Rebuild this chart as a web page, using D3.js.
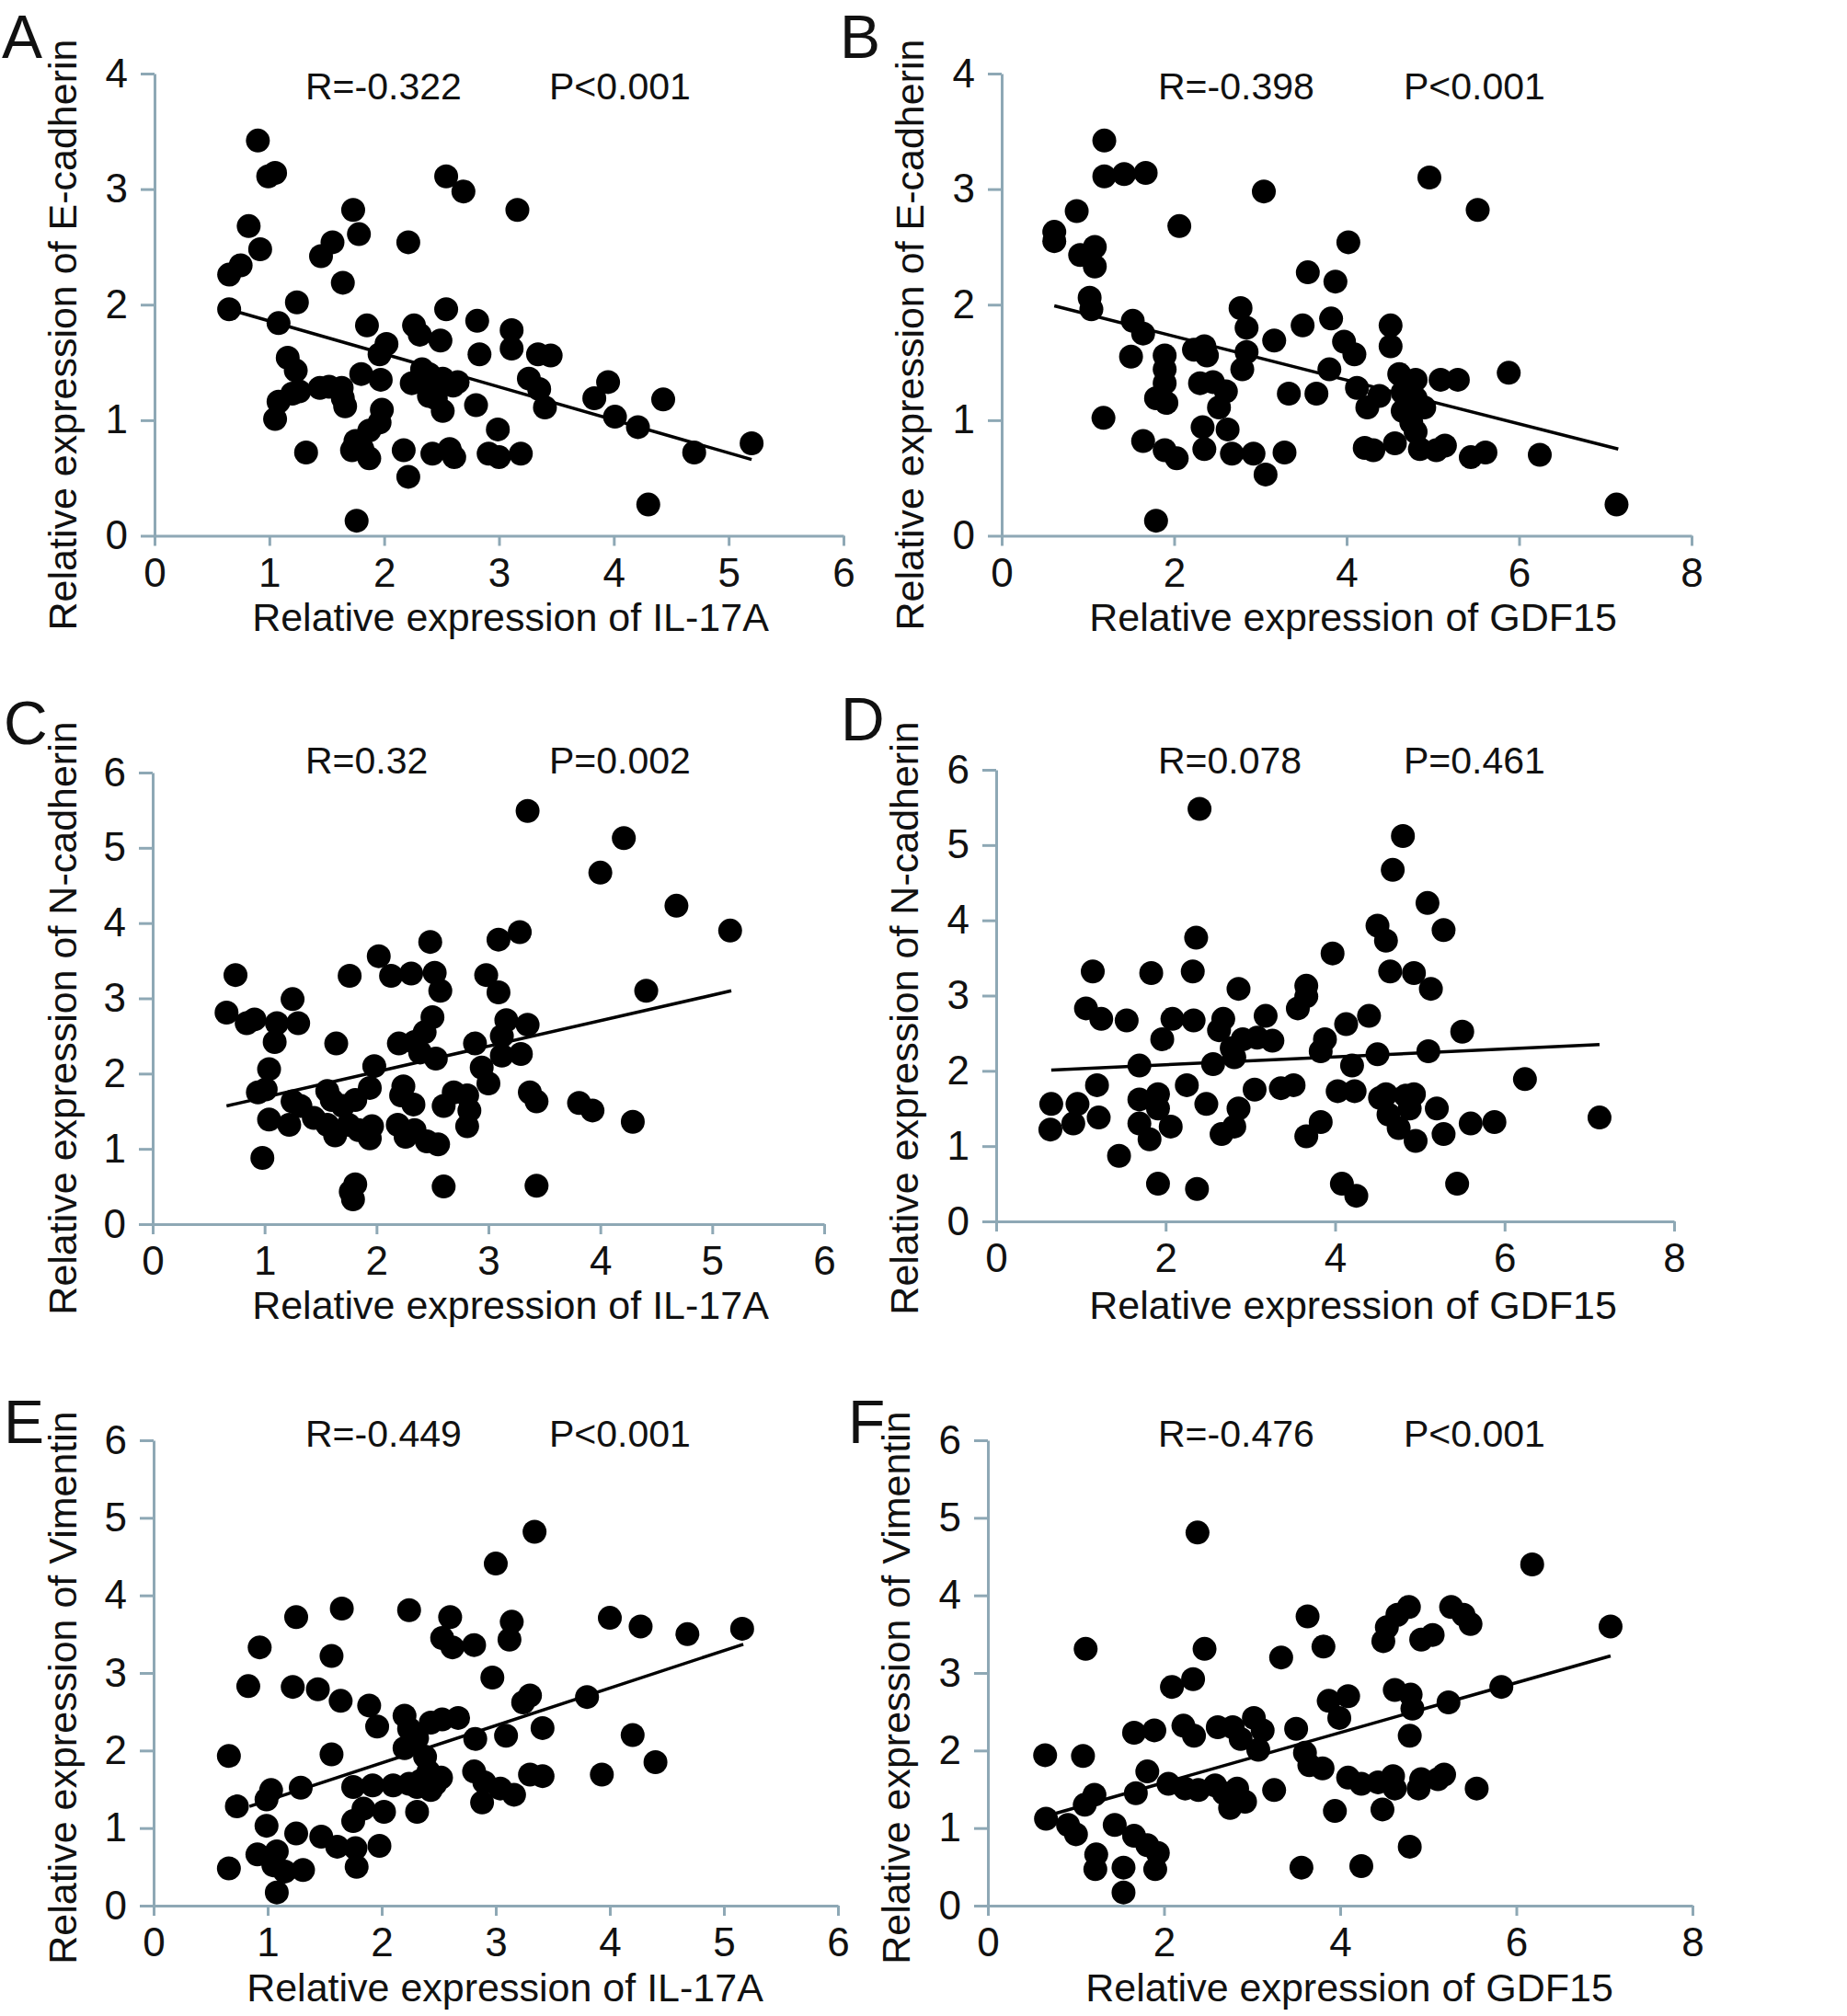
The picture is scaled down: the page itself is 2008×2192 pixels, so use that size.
<!DOCTYPE html>
<html>
<head>
<meta charset="utf-8">
<script src="https://cdn.jsdelivr.net/npm/d3@7"></script>
<style>
  body { margin: 0; background: #fff; }
  text { font-family: "Liberation Sans", Arial, sans-serif; fill: #111; }
</style>
</head>
<body>
<svg id="chart" width="2008" height="2192"></svg>
<script>
// ---- data ----
// A: IL-17A vs E-cadherin
const aIl17a = [0.90, 0.99, 1.05, 2.54, 2.69, 3.16, 1.73, 1.78, 0.82, 0.92, 2.21, 1.55, 1.45, 1.64, 0.75, 0.65, 0.65, 1.24, 1.08, 1.85,
  2.54, 2.81, 2.26, 2.31, 2.49, 3.11, 3.11, 2.83, 3.34, 3.45, 2.02, 1.96, 1.16, 1.23, 1.80, 1.97, 2.24, 2.33, 2.39, 2.42,
  2.51, 2.60, 2.45, 2.51, 2.39, 2.64, 3.26, 3.35, 3.40, 3.95, 3.83, 4.43, 4.01, 4.21, 4.70, 2.80, 1.44, 1.52, 1.63, 1.64,
  1.66, 1.26, 1.20, 1.08, 1.05, 1.32, 1.98, 1.96, 1.87, 1.75, 1.81, 1.87, 1.72, 2.17, 2.21, 2.42, 2.57, 2.61, 2.99, 2.91,
  3.00, 3.19, 4.30, 1.76, 5.20];
const aEcad = [3.42, 3.11, 3.14, 3.11, 2.98, 2.82, 2.82, 2.61, 2.68, 2.48, 2.54, 2.54, 2.42, 2.19, 2.34, 2.26, 1.96, 2.02, 1.84, 1.82,
  1.96, 1.86, 1.82, 1.74, 1.69, 1.78, 1.62, 1.57, 1.57, 1.56, 1.66, 1.57, 1.54, 1.43, 1.40, 1.35, 1.32, 1.44, 1.40, 1.32,
  1.36, 1.30, 1.19, 1.08, 1.21, 1.33, 1.36, 1.27, 1.11, 1.33, 1.19, 1.18, 1.03, 0.94, 0.72, 1.13, 1.28, 1.29, 1.28, 1.19,
  1.12, 1.25, 1.23, 1.16, 1.01, 0.72, 1.09, 0.98, 0.91, 0.82, 0.75, 0.67, 0.74, 0.74, 0.51, 0.71, 0.75, 0.68, 0.92, 0.71,
  0.68, 0.71, 0.27, 0.13, 0.80];
const aFitX = [0.68, 5.2];
const aFitY = [1.95, 0.66];

// B: GDF15 vs E-cadherin
const bGdf15 = [0.61, 0.61, 0.87, 0.91, 1.08, 1.08, 1.02, 1.04, 1.19, 1.19, 1.42, 1.67, 3.04, 4.96, 5.52, 2.06, 4.02, 3.55, 3.87, 2.77,
  2.84, 2.84, 2.79, 1.52, 1.64, 3.49, 3.82, 3.16, 3.97, 4.09, 4.51, 4.51, 1.50, 1.89, 1.89, 1.89, 1.79, 1.91, 2.23, 2.35,
  2.38, 2.30, 2.45, 2.60, 2.52, 2.62, 2.33, 2.35, 2.67, 2.92, 3.06, 3.28, 3.33, 3.65, 3.80, 4.12, 4.24, 4.38, 4.61, 4.80,
  4.65, 4.80, 4.65, 4.90, 4.75, 4.80, 5.09, 5.29, 5.88, 4.21, 4.31, 4.56, 4.85, 5.04, 5.14, 5.44, 5.61, 6.24, 7.13, 1.79,
  1.18, 1.64, 1.89, 2.03];
const bEcad = [2.63, 2.55, 2.81, 2.43, 2.50, 2.33, 2.06, 1.96, 3.42, 3.11, 3.13, 3.14, 2.98, 3.10, 2.82, 2.68, 2.54, 2.28, 2.20, 1.97,
  1.80, 1.59, 1.44, 1.86, 1.75, 1.82, 1.88, 1.69, 1.68, 1.57, 1.82, 1.64, 1.55, 1.56, 1.44, 1.32, 1.19, 1.15, 1.61, 1.64,
  1.56, 1.32, 1.33, 1.25, 1.11, 0.92, 0.94, 0.75, 0.71, 0.71, 0.53, 0.72, 1.23, 1.23, 1.44, 1.28, 1.11, 1.21, 1.40, 1.35,
  1.24, 1.19, 1.08, 1.11, 0.98, 0.90, 1.35, 1.35, 1.41, 0.76, 0.74, 0.80, 0.75, 0.74, 0.78, 0.68, 0.72, 0.70, 0.27, 0.13,
  1.02, 0.82, 0.74, 0.67];
const bFitX = [0.61, 7.15];
const bFitY = [1.99, 0.75];

// C: IL-17A vs N-cadherin
const cIl17a = [3.35, 4.21, 4.00, 4.68, 5.16, 2.48, 3.28, 3.09, 2.02, 1.76, 2.13, 2.31, 2.52, 2.57, 2.98, 3.09, 0.74, 4.41, 0.66, 1.25,
  0.84, 0.91, 1.11, 1.30, 1.09, 1.64, 2.50, 2.43, 2.34, 2.39, 2.20, 2.53, 2.88, 3.16, 3.12, 3.35, 3.29, 3.12, 2.94, 3.00,
  1.04, 1.98, 0.94, 1.01, 1.94, 2.24, 2.22, 2.33, 2.69, 2.81, 2.60, 2.83, 2.81, 3.37, 3.43, 3.81, 3.93, 4.29, 1.56, 1.60,
  1.70, 1.81, 1.25, 1.32, 1.22, 1.04, 1.44, 1.56, 1.63, 1.75, 1.84, 1.96, 1.94, 2.19, 2.26, 2.34, 2.45, 2.55, 0.98, 1.81,
  1.77, 1.79, 2.60, 3.43];
const cNcad = [5.49, 5.13, 4.67, 4.23, 3.90, 3.75, 3.88, 3.78, 3.56, 3.30, 3.30, 3.33, 3.34, 3.10, 3.31, 3.08, 3.31, 3.10, 2.81, 2.99,
  2.67, 2.72, 2.67, 2.67, 2.42, 2.40, 2.75, 2.55, 2.42, 2.28, 2.40, 2.20, 2.40, 2.71, 2.50, 2.65, 2.26, 2.24, 2.08, 1.87,
  2.06, 2.10, 1.75, 1.79, 1.81, 1.83, 1.71, 1.59, 1.75, 1.71, 1.57, 1.51, 1.30, 1.75, 1.63, 1.61, 1.51, 1.36, 1.77, 1.65,
  1.57, 1.65, 1.63, 1.57, 1.32, 1.39, 1.41, 1.32, 1.18, 1.32, 1.25, 1.30, 1.14, 1.32, 1.16, 1.25, 1.10, 1.06, 0.88, 0.53,
  0.43, 0.33, 0.50, 0.51];
const cFitX = [0.66, 5.17];
const cFitY = [1.57, 3.10];

// D: GDF15 vs N-cadherin
const dGdf15 = [2.40, 4.80, 4.68, 5.09, 5.28, 2.36, 4.50, 4.60, 3.97, 1.14, 1.83, 2.32, 2.86, 3.66, 3.66, 3.56, 4.65, 4.93, 5.13, 1.06,
  1.24, 1.54, 2.08, 1.96, 2.33, 2.68, 2.63, 3.18, 4.13, 4.40, 5.50, 2.91, 3.08, 3.26, 2.78, 2.81, 3.88, 3.83, 1.69, 2.56,
  4.20, 4.50, 5.10, 6.24, 7.12, 0.65, 0.64, 0.96, 0.91, 1.19, 1.21, 1.69, 1.69, 1.91, 1.91, 1.81, 2.06, 2.25, 2.48, 2.66,
  2.81, 2.86, 3.05, 3.36, 3.51, 3.66, 3.83, 4.03, 4.23, 4.53, 4.60, 4.63, 4.83, 4.88, 4.93, 4.75, 4.95, 5.20, 5.28, 5.60,
  5.88, 1.45, 1.91, 2.37, 4.08, 4.25, 5.44];
const dNcad = [5.48, 5.12, 4.67, 4.23, 3.87, 3.77, 3.93, 3.73, 3.56, 3.32, 3.30, 3.32, 3.09, 3.13, 2.99, 2.83, 3.32, 3.30, 3.09, 2.83,
  2.69, 2.67, 2.69, 2.42, 2.67, 2.69, 2.54, 2.73, 2.62, 2.73, 2.52, 2.42, 2.44, 2.40, 2.30, 2.18, 2.42, 2.26, 2.07, 2.09,
  2.07, 2.22, 2.26, 1.89, 1.38, 1.56, 1.22, 1.56, 1.30, 1.81, 1.38, 1.62, 1.30, 1.69, 1.50, 1.09, 1.26, 1.81, 1.56, 1.16,
  1.26, 1.50, 1.75, 1.77, 1.81, 1.13, 1.32, 1.73, 1.73, 1.64, 1.69, 1.42, 1.67, 1.50, 1.69, 1.24, 1.07, 1.50, 1.16, 1.30,
  1.32, 0.87, 0.50, 0.43, 0.50, 0.34, 0.50];
const dFitX = [0.65, 7.12];
const dFitY = [2.01, 2.35];

// E: IL-17A vs Vimentin
const eIl17a = [3.34, 3.00, 1.25, 1.65, 2.24, 2.60, 2.53, 2.62, 2.81, 3.14, 3.12, 4.00, 4.27, 4.68, 5.16, 0.93, 1.56, 2.97, 0.83, 1.22,
  1.44, 1.64, 1.89, 1.96, 3.30, 3.24, 3.80, 2.20, 2.24, 2.31, 2.43, 2.53, 2.67, 3.41, 3.09, 2.82, 4.20, 0.66, 1.56, 2.20,
  2.38, 2.41, 2.52, 2.47, 4.40, 3.93, 2.81, 2.90, 3.04, 3.16, 3.30, 3.41, 2.88, 1.75, 1.92, 2.10, 2.24, 2.31, 2.43, 2.34,
  2.31, 2.02, 1.29, 1.03, 0.99, 0.73, 1.75, 1.84, 0.99, 1.25, 1.47, 1.61, 1.77, 1.98, 1.78, 0.91, 1.08, 1.05, 1.15, 1.31,
  0.66, 1.08];
const eVim = [4.82, 4.41, 3.72, 3.83, 3.81, 3.72, 3.45, 3.33, 3.36, 3.66, 3.43, 3.71, 3.60, 3.50, 3.57, 3.33, 3.22, 2.94, 2.83, 2.82,
  2.79, 2.64, 2.58, 2.31, 2.71, 2.62, 2.69, 2.45, 2.28, 2.16, 2.36, 2.40, 2.42, 2.29, 2.19, 2.15, 2.20, 1.93, 1.95, 2.03,
  1.92, 1.73, 1.65, 1.57, 1.85, 1.69, 1.73, 1.59, 1.51, 1.43, 1.69, 1.67, 1.33, 1.53, 1.55, 1.55, 1.57, 1.53, 1.49, 1.61,
  1.21, 1.21, 1.52, 1.49, 1.37, 1.28, 1.09, 1.25, 1.03, 0.93, 0.89, 0.76, 0.74, 0.77, 0.50, 0.66, 0.70, 0.52, 0.44, 0.46,
  0.48, 0.17];
const eFitX = [0.84, 5.17];
const eFitY = [1.28, 3.37];

// F: GDF15 vs Vimentin
const fGdf15 = [2.38, 6.18, 3.63, 4.78, 4.65, 4.53, 4.49, 5.26, 5.40, 5.48, 4.92, 5.05, 7.07, 1.11, 2.46, 3.33, 3.81, 2.33, 2.09, 5.83,
  4.62, 4.80, 4.82, 5.23, 3.87, 4.09, 3.99, 4.79, 1.66, 1.89, 2.22, 2.34, 2.61, 2.78, 2.87, 3.02, 3.12, 3.07, 3.50, 0.65,
  1.08, 3.60, 3.65, 3.80, 1.81, 2.05, 1.68, 2.24, 2.39, 2.58, 2.68, 2.83, 2.75, 2.92, 3.25, 4.09, 4.24, 4.43, 4.60, 4.62,
  4.92, 5.11, 5.18, 4.89, 5.55, 3.94, 4.48, 1.21, 1.10, 0.66, 0.91, 1.00, 1.44, 1.66, 1.81, 1.93, 1.90, 1.23, 1.22, 1.54,
  1.54, 3.56, 4.24, 4.79];
const fVim = [4.81, 4.40, 3.73, 3.85, 3.75, 3.59, 3.41, 3.85, 3.75, 3.63, 3.43, 3.49, 3.60, 3.31, 3.31, 3.20, 3.34, 2.92, 2.82, 2.82,
  2.78, 2.72, 2.54, 2.62, 2.64, 2.70, 2.42, 2.19, 2.23, 2.26, 2.32, 2.19, 2.30, 2.30, 2.15, 2.42, 2.26, 2.01, 2.28, 1.94,
  1.93, 1.97, 1.81, 1.77, 1.73, 1.57, 1.45, 1.51, 1.49, 1.55, 1.45, 1.51, 1.26, 1.34, 1.49, 1.65, 1.57, 1.59, 1.67, 1.51,
  1.63, 1.63, 1.69, 1.51, 1.51, 1.22, 1.24, 1.43, 1.30, 1.12, 1.04, 0.92, 1.04, 0.90, 0.78, 0.68, 0.47, 0.66, 0.47, 0.49,
  0.17, 0.49, 0.51, 0.76];
const fFitX = [0.74, 7.07];
const fFitY = [1.18, 3.22];

// ticks, labels
const il17aTicks = [0, 1, 2, 3, 4, 5, 6];
const gdf15Ticks = [0, 2, 4, 6, 8];
const ecadTicks = [0, 1, 2, 3, 4];
const sixTicks = [0, 1, 2, 3, 4, 5, 6];
const panelLetters = ["A", "B", "C", "D", "E", "F"];
const rLabels = ["R=-0.322", "R=-0.398", "R=0.32", "R=0.078", "R=-0.449", "R=-0.476"];
const pLabels = ["P<0.001", "P<0.001", "P=0.002", "P=0.461", "P<0.001", "P<0.001"];
const xTitles = ["Relative expression of IL-17A", "Relative expression of GDF15"];
const yTitles = ["Relative expression of E-cadherin", "Relative expression of N-cadherin", "Relative expression of Vimentin"];

// ---- geometry of each panel (pixels) ----
const layout = [
  { left: 168, right: 917, bottom: 582.5, top: 80, letter: [2, 63], stat: [332, 597, 108], xTitle: [555, 686], yTitle: [83, 364] },
  { left: 1089, right: 1839, bottom: 582.5, top: 80, letter: [913, 63], stat: [1259, 1526, 108], xTitle: [1471, 686], yTitle: [1004, 364] },
  { left: 166, right: 896, bottom: 1331, top: 840, letter: [4, 809], stat: [332, 597, 841], xTitle: [555, 1434], yTitle: [83, 1107] },
  { left: 1083, right: 1820, bottom: 1328, top: 837, letter: [914, 805], stat: [1259, 1526, 841], xTitle: [1471, 1434], yTitle: [998, 1107] },
  { left: 167, right: 911, bottom: 2072, top: 1566, letter: [4, 1569], stat: [332, 597, 1573], xTitle: [549, 2176], yTitle: [83, 1835] },
  { left: 1074, right: 1840, bottom: 2072, top: 1566, letter: [922, 1569], stat: [1259, 1526, 1573], xTitle: [1467, 2176], yTitle: [989, 1835] },
];

const zip = (xs, ys) => xs.map((x, i) => [x, ys[i]]);

const panels = [
  { pts: zip(aIl17a, aEcad), fit: zip(aFitX, aFitY), xTicks: il17aTicks, yTicks: ecadTicks, xTitle: xTitles[0], yTitle: yTitles[0] },
  { pts: zip(bGdf15, bEcad), fit: zip(bFitX, bFitY), xTicks: gdf15Ticks, yTicks: ecadTicks, xTitle: xTitles[1], yTitle: yTitles[0] },
  { pts: zip(cIl17a, cNcad), fit: zip(cFitX, cFitY), xTicks: il17aTicks, yTicks: sixTicks, xTitle: xTitles[0], yTitle: yTitles[1] },
  { pts: zip(dGdf15, dNcad), fit: zip(dFitX, dFitY), xTicks: gdf15Ticks, yTicks: sixTicks, xTitle: xTitles[1], yTitle: yTitles[1] },
  { pts: zip(eIl17a, eVim), fit: zip(eFitX, eFitY), xTicks: il17aTicks, yTicks: sixTicks, xTitle: xTitles[0], yTitle: yTitles[2] },
  { pts: zip(fGdf15, fVim), fit: zip(fFitX, fFitY), xTicks: gdf15Ticks, yTicks: sixTicks, xTitle: xTitles[1], yTitle: yTitles[2] },
];

const axisColor = "#8ea8b5";
const tickFont = 44;
const svg = d3.select("#chart");
svg.append("rect").attr("width", 2008).attr("height", 2192).attr("fill", "#fff");

panels.forEach((p, i) => {
  const L = layout[i];
  const x = d3.scaleLinear().domain(d3.extent(p.xTicks)).range([L.left, L.right]);
  const y = d3.scaleLinear().domain(d3.extent(p.yTicks)).range([L.bottom, L.top]);
  const g = svg.append("g").attr("class", "panel");

  // axes (Excel-like light blue-grey lines)
  const yAxis = g.append("g")
    .attr("transform", `translate(${L.left},0)`)
    .call(d3.axisLeft(y).tickValues(p.yTicks).tickSize(15).tickSizeOuter(0).tickPadding(14).tickFormat(d3.format("d")));
  const xAxis = g.append("g")
    .attr("transform", `translate(0,${L.bottom})`)
    .call(d3.axisBottom(x).tickValues(p.xTicks).tickSize(11).tickSizeOuter(0).tickPadding(13).tickFormat(d3.format("d")));
  [xAxis, yAxis].forEach((ax) => {
    ax.attr("font-family", null).attr("font-size", tickFont);
    ax.select(".domain").attr("stroke", axisColor).attr("stroke-width", 3);
    ax.selectAll(".tick line").attr("stroke", axisColor).attr("stroke-width", 3);
    ax.selectAll(".tick text").attr("fill", "#111");
  });

  // dots
  g.append("g")
    .selectAll("circle")
    .data(p.pts)
    .join("circle")
    .attr("cx", (d) => x(d[0]))
    .attr("cy", (d) => y(d[1]))
    .attr("r", 13)
    .attr("fill", "#000");

  // linear trend line
  g.append("path")
    .datum(p.fit)
    .attr("fill", "none")
    .attr("stroke", "#000")
    .attr("stroke-width", 3.5)
    .attr("d", d3.line().x((d) => x(d[0])).y((d) => y(d[1])));

  // texts
  g.append("text").attr("x", L.letter[0]).attr("y", L.letter[1]).attr("font-size", 66).text(panelLetters[i]);
  g.append("text").attr("x", L.stat[0]).attr("y", L.stat[2]).attr("font-size", 41).text(rLabels[i]);
  g.append("text").attr("x", L.stat[1]).attr("y", L.stat[2]).attr("font-size", 41).text(pLabels[i]);
  g.append("text")
    .attr("x", L.xTitle[0]).attr("y", L.xTitle[1])
    .attr("text-anchor", "middle").attr("font-size", 43)
    .text(p.xTitle);
  g.append("text")
    .attr("transform", `translate(${L.yTitle[0]},${L.yTitle[1]}) rotate(-90)`)
    .attr("text-anchor", "middle").attr("font-size", 43)
    .text(p.yTitle);
});
</script>
</body>
</html>
